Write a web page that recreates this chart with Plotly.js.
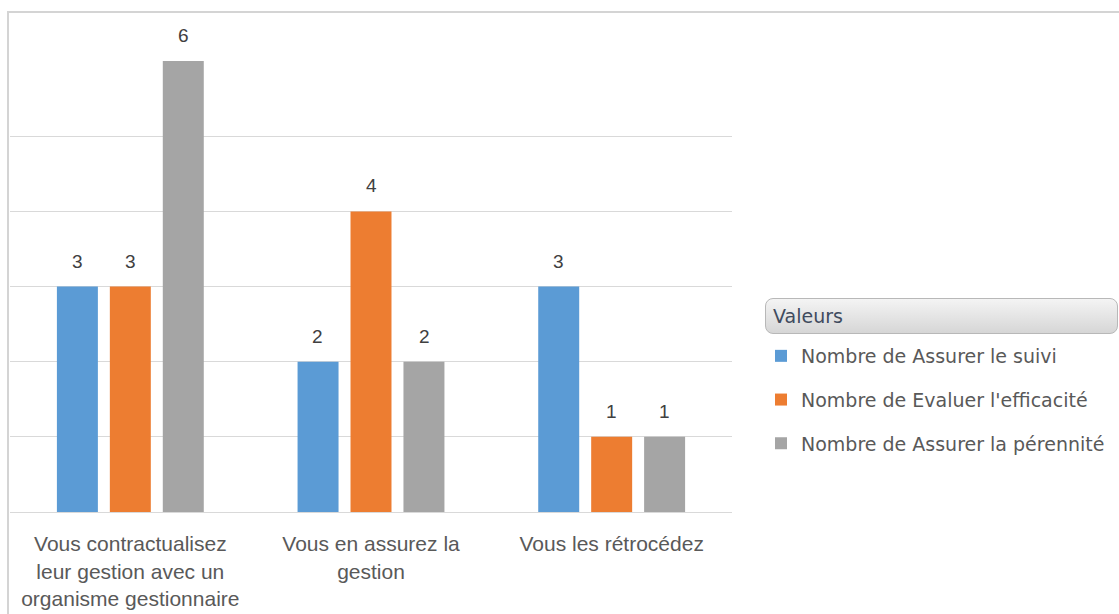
<!DOCTYPE html>
<html><head><meta charset="utf-8">
<script src="https://cdn.plot.ly/plotly-3.0.1.min.js"></script>
<style>
html,body{margin:0;padding:0;background:#fff;}
#wrap{position:relative;width:1119px;height:614px;overflow:hidden;}
#frame{position:absolute;left:7px;top:11px;width:1120px;height:620px;border-top:2px solid #d4d4d4;border-left:2px solid #d4d4d4;}
#hdr{position:absolute;left:765px;top:298px;width:351px;height:34px;border:1px solid #b8b8b8;border-radius:8px;background:linear-gradient(#f4f4f4,#d6d6d6);}
#chart{position:absolute;left:0;top:0;width:1119px;height:614px;}
</style></head>
<body><div id="wrap"><div id="frame"></div><div id="hdr"></div><div id="chart"></div></div>
<script>
const categories = ["Vous contractualisez<br>leur gestion avec un<br>organisme gestionnaire","Vous en assurez la<br>gestion","Vous les rétrocédez"];
const seriesNames = ["Nombre de Assurer le suivi","Nombre de Evaluer l'efficacité","Nombre de Assurer la pérennité"];
const suivi = [3,2,3];
const efficacite = [3,4,1];
const perennite = [6,2,1];
const legendTitle = "Valeurs";
const colors = ["#5B9BD5","#ED7D31","#A5A5A5"];
const values = [suivi, efficacite, perennite];

const plotW = 723, nCat = categories.length;
const bargap = 0.34, bargroupgap = 0.226;
const slot = plotW / nCat * (1 - bargap) / values.length;

const traces = values.map((v,i)=>({
  type:'bar', x:categories, y:v, name:seriesNames[i], legendgroup:'g'+i,
  marker:{color:colors[i]}, hoverinfo:'none'
}));

const annotations = [];
values.forEach((v,i)=>{
  v.forEach((val,j)=>{
    annotations.push({x:categories[j], y:val, xref:'x', yref:'y', text:String(val), showarrow:false,
      yanchor:'bottom', yshift:13, xshift:(i-1)*slot,
      font:{family:'Liberation Sans, Arial', size:19, color:'#404040'}});
  });
});
annotations.push({xref:'paper', yref:'paper', x:(772-10)/plotW, y:(512-316)/451, xanchor:'left', yanchor:'middle',
  text:legendTitle, showarrow:false, font:{family:'DejaVu Sans', size:19, color:'#3F4B5E'}});

const layout = {
  width:1119, height:614,
  margin:{l:10, r:386, t:61, b:102},
  paper_bgcolor:'rgba(0,0,0,0)', plot_bgcolor:'rgba(0,0,0,0)',
  barmode:'group', bargap:bargap, bargroupgap:bargroupgap,
  font:{family:'Liberation Sans, Arial', color:'#595959'},
  xaxis:{showgrid:false, showline:true, linecolor:'#d9d9d9', linewidth:1, ticks:'',
    tickfont:{size:21, color:'#595959'}, automargin:false, ticklabelstandoff:13},
  yaxis:{range:[0,6.001], dtick:1, showticklabels:false, gridcolor:'#d9d9d9', gridwidth:1, zeroline:false, fixedrange:true},
  showlegend:true,
  legend:{x:(761-10)/plotW, xanchor:'left', y:(512-337)/451, yanchor:'top', tracegroupgap:16,
    font:{family:'DejaVu Sans', size:19, color:'#595959'}},
  annotations:annotations
};
Plotly.newPlot('chart', traces, layout, {displayModeBar:false, staticPlot:true});
</script></body></html>
